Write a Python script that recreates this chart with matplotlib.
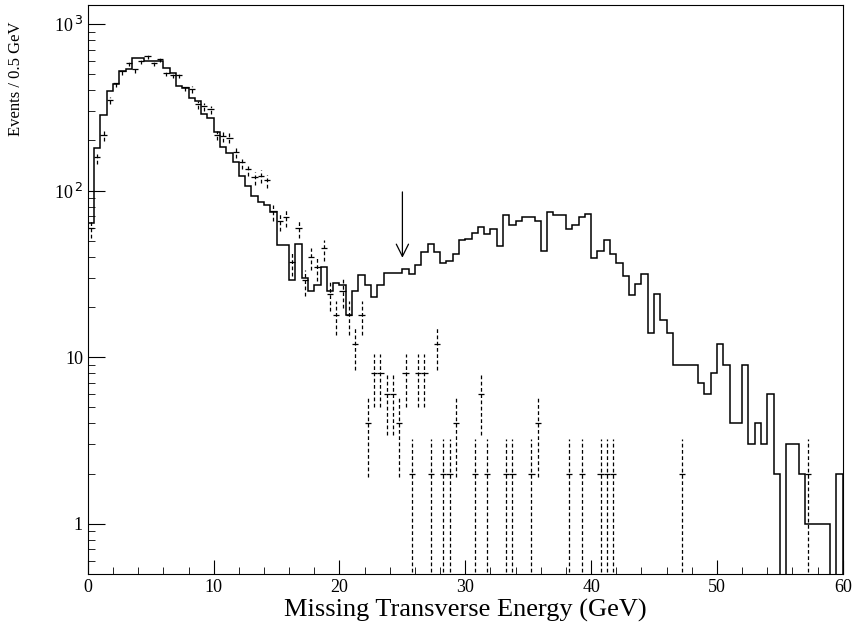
import numpy as np
import matplotlib.pyplot as plt
from matplotlib.ticker import FixedLocator, MultipleLocator, LogLocator, NullFormatter

plt.rcParams['font.family'] = ['Liberation Serif', 'DejaVu Serif']

# Monte Carlo histogram, 0.5 GeV bins from 0 to 60 GeV
mc_counts = [64, 180, 285, 394, 436, 523, 540, 628, 628, 597,
             600, 600, 547, 507, 422, 415, 359, 346, 288, 272,
             226, 183, 169, 148, 123, 107, 93, 85, 82, 74,
             47, 47, 29, 48, 30, 25, 27, 35, 25, 28,
             27, 18, 25, 31, 27, 23, 27, 32, 32, 32,
             33.6, 31.7, 35.9, 42.7, 47.5, 42.7, 36.7, 38, 41.4, 50.2,
             51, 55.8, 60.3, 55, 59, 46.4, 71.6, 61.8, 65.5, 69,
             69, 65.5, 43.3, 74, 71.6, 71.6, 59, 61.8, 69, 72.8,
             39.5, 43.3, 50.7, 41.4, 36.7, 30.7, 23.7, 27.6, 31.7, 14,
             24, 16.8, 14, 9, 9, 9, 9, 7, 6, 8,
             12, 9, 4, 4, 9, 3, 4, 3, 6, 2,
             0, 3, 3, 2, 1, 1, 1, 1, 0, 2]

# data points: bin centres (GeV) and counts
data_x = [0.25, 0.75, 1.25, 1.75, 2.25, 2.75, 3.25, 3.75, 4.25, 4.75,
          5.25, 5.75, 6.25, 6.75, 7.25, 7.75, 8.25, 8.75, 9.25, 9.75,
          10.25, 10.75, 11.25, 11.75, 12.25, 12.75, 13.25, 13.75, 14.25, 14.75,
          15.25, 15.75, 16.25, 16.75, 17.25, 17.75, 18.25, 18.75, 19.25, 19.75,
          20.25, 20.75, 21.25, 21.75, 22.25, 22.75, 23.25, 23.75, 24.25, 24.75,
          25.25, 25.75, 26.25, 26.75, 27.25, 27.75, 28.25, 28.75, 29.25, 30.75,
          31.25, 31.75, 33.25, 33.75, 35.25, 35.75, 38.25, 39.25, 40.75, 41.25,
          41.75, 47.25, 57.25]
data_y = [60, 158, 215, 351, 440, 519, 586, 535, 600, 643,
          586, 614, 511, 495, 495, 416, 406, 330, 320, 308,
          216, 212, 208, 170, 148, 135, 120, 123, 115, 75,
          66, 69, 37, 60, 29, 40, 35, 45, 24, 18,
          25, 18, 12, 18, 4, 8, 8, 6, 6, 4,
          8, 2, 8, 8, 2, 12, 2, 2, 4, 2,
          6, 2, 2, 2, 2, 4, 2, 2, 2, 2,
          2, 2, 2]

edges = np.arange(0, 60.01, 0.5)
mc = np.array(mc_counts, dtype=float)
mc[mc <= 0] = 1e-3
dx = np.array(data_x)
dy = np.array(data_y, dtype=float)
err_up = 0.85 * np.sqrt(dy)
err_lo = np.minimum(dy - 0.4, 1.05 * np.sqrt(dy))

fig = plt.figure(figsize=(8.53, 6.34), dpi=100)
ax = fig.add_axes([0.103, 0.095, 0.885, 0.897])

ax.stairs(mc, edges, color='black', linewidth=1.1, baseline=1e-3)

eb = ax.errorbar(dx, dy, yerr=[err_lo, err_up], fmt='none', ecolor='black',
                 elinewidth=0.9, capsize=0)
eb[2][0].set_linestyle((0, (3, 2)))
ax.errorbar(dx, dy, xerr=0.25, fmt='none', ecolor='black', elinewidth=0.9, capsize=0)

ax.annotate('', xy=(25, 38), xytext=(25, 102),
            arrowprops=dict(arrowstyle='->', color='black', lw=0.9,
                            mutation_scale=22))

ax.set_yscale('log')
ax.set_xlim(0, 60)
ax.set_ylim(0.5, 1300)
ax.yaxis.set_major_locator(FixedLocator([1, 10, 100, 1000]))
ax.set_yticklabels(['1', '10', r'10$^{\,2}$', r'10$^{\,3}$'])
ax.yaxis.set_minor_locator(LogLocator(base=10, subs=np.arange(2, 10)))
ax.yaxis.set_minor_formatter(NullFormatter())
ax.xaxis.set_major_locator(MultipleLocator(10))
ax.xaxis.set_minor_locator(MultipleLocator(2))
ax.tick_params(which='both', direction='in', labelsize=13)
ax.tick_params(which='major', length=10)
ax.tick_params(which='minor', length=5)
ax.tick_params(axis='y', which='major', length=12)

ax.set_xlabel('Missing Transverse Energy (GeV)', fontsize=19, labelpad=2)
ax.set_ylabel('Events / 0.5 GeV', fontsize=12)
ax.yaxis.set_label_coords(-0.085, 0.87)

fig.savefig('out.png', dpi=100)
